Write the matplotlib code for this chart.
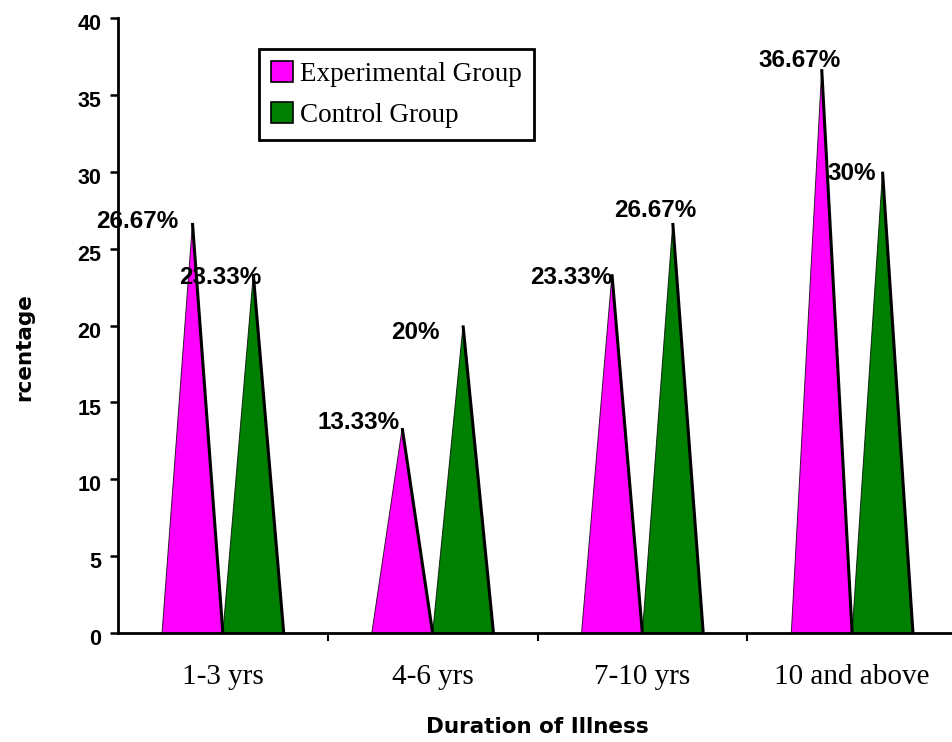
import matplotlib
matplotlib.use("Agg")
import matplotlib.pyplot as plt
from matplotlib.patches import Polygon, Patch
import matplotlib.transforms as mtransforms

# Data
categories = ["1-3 yrs", "4-6 yrs", "7-10 yrs", "10 and above"]
experimental = [26.67, 13.33, 23.33, 36.67]
control = [23.33, 20, 26.67, 30]
series_names = ["Experimental Group", "Control Group"]
y_ticks = [0, 5, 10, 15, 20, 25, 30, 35, 40]

# Styling / layout
colors = ["#FF00FF", "#008000"]
cone_width = 0.29
# label offsets (pixels, baseline) relative to each cone apex
exp_label_offsets = [(-55, -5), (-44, -0.5), (-41, -9.5), (-22, 2.5)]
ctrl_label_offsets = [(-33, -9.5), (-48, -13), (-18, 5.5), (-31, -8.5)]

fig = plt.figure(figsize=(9.52, 7.42), dpi=100)
ax = fig.add_axes([118 / 952, 1 - 633 / 742, (957 - 118) / 952, 615 / 742])
ax.set_xlim(0, len(categories))
ax.set_ylim(0, 40)


def draw_cone(x0, x1, value, color):
    apex = (x0 + x1) / 2
    tri = Polygon([(x0, 0), (apex, value), (x1, 0)], closed=True,
                  facecolor=color, edgecolor="none", zorder=3)
    ax.add_patch(tri)
    ax.plot([x0, apex], [0, value], color="black", lw=0.7, zorder=4,
            solid_capstyle="butt", alpha=0.8)
    ax.plot([apex, x1], [value, 0], color="black", lw=2.2, zorder=4,
            solid_capstyle="butt")
    return apex


label_font = dict(family="Liberation Sans", weight="bold", size=17.5)
for i, cat in enumerate(categories):
    c = i + 0.5
    a_exp = draw_cone(c - cone_width, c, experimental[i], colors[0])
    a_ctl = draw_cone(c, c + cone_width, control[i], colors[1])
    for apex, val, off in ((a_exp, experimental[i], exp_label_offsets[i]),
                           (a_ctl, control[i], ctrl_label_offsets[i])):
        ax.annotate(f"{val:g}%", xy=(apex, val), xytext=off,
                    textcoords="offset pixels", ha="center", va="baseline",
                    zorder=6, **label_font)

# Axes styling
for side in ("top", "right"):
    ax.spines[side].set_visible(False)
for side in ("left", "bottom"):
    ax.spines[side].set_linewidth(2.0)
    ax.spines[side].set_color("black")
    ax.spines[side].set_zorder(5)

ax.set_yticks(y_ticks)
ax.set_yticklabels([str(t) for t in y_ticks])
ax.tick_params(axis="y", direction="out", length=6, width=1.8, pad=6,
               labelsize=15.5)
for lbl in ax.get_yticklabels():
    lbl.set_fontfamily("Liberation Sans")
    lbl.set_fontweight("bold")
    lbl.set_transform(lbl.get_transform() + mtransforms.ScaledTranslation(
        0, -3 / 72, fig.dpi_scale_trans))

# category boundary ticks (major) and category labels (minor)
ax.set_xticks([1, 2, 3])
ax.set_xticklabels([])
ax.tick_params(axis="x", which="major", direction="out", length=6, width=1.5)
ax.set_xticks([i + 0.5 for i in range(len(categories))], minor=True)
ax.set_xticklabels(categories, minor=True)
ax.tick_params(axis="x", which="minor", length=0, pad=22, labelsize=21)
for lbl in ax.get_xticklabels(minor=True):
    lbl.set_fontfamily("Liberation Serif")

fig.text(537 / 952, 1 - 727 / 742, "Duration of Illness", ha="center",
         va="center", family="DejaVu Sans", weight="bold", size=15.5)
fig.text(24 / 952, 1 - 347 / 742, "rcentage", ha="center", va="center",
         rotation=90, family="DejaVu Sans", weight="bold", size=15.5)

handles = [Patch(facecolor=colors[k], edgecolor="black", linewidth=1.2)
           for k in range(2)]
leg = fig.legend(handles, series_names, loc="upper left",
                 bbox_to_anchor=(259 / 952, 1 - 49 / 742),
                 bbox_transform=fig.transFigure, borderaxespad=0,
                 prop=dict(family="Liberation Serif", size=19.5),
                 handlelength=0.8, handleheight=0.8, handletextpad=0.25,
                 labelspacing=0.55, borderpad=0.45, fancybox=False,
                 framealpha=1, edgecolor="black")
leg.get_frame().set_linewidth(2.0)

fig.savefig("out.png", dpi=100)
